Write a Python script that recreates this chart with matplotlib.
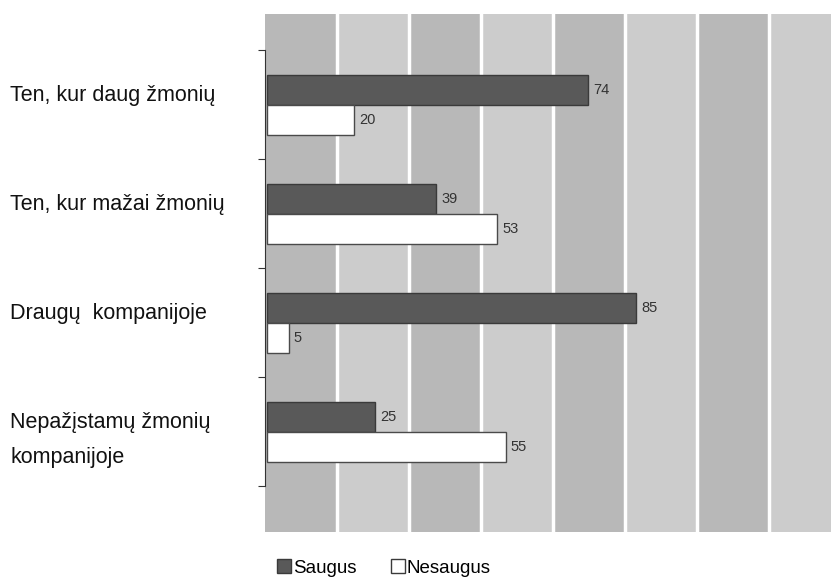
import matplotlib.pyplot as plt
from matplotlib.patches import Patch

categories = ["Ten, kur daug žmonių", "Ten, kur mažai žmonių",
              "Draugų  kompanijoje", "Nepažįstamų žmonių\nkompanijoje"]
saugus = [74, 39, 85, 25]
nesaugus = [20, 53, 5, 55]
series_names = ["Saugus", "Nesaugus"]

plt.rcParams['font.family'] = ['Liberation Sans', 'DejaVu Sans']

fig = plt.figure(figsize=(8.31, 5.8), dpi=100)
ax = fig.add_axes([265 / 831, 1 - 532 / 580, 1 - 265 / 831, 518 / 580])

xmin, xmax = -0.46, 130
band = 16.6
# alternating background bands with white separators
i = 0
x0 = xmin
while x0 < xmax:
    ax.axvspan(x0, x0 + band, color="#b8b8b8" if i % 2 == 0 else "#cccccc", lw=0, zorder=0)
    if i > 0:
        ax.axvline(x0, color="white", lw=2.5, zorder=1)
    x0 += band
    i += 1

h = 0.275
y = list(range(len(categories)))
ax.barh([v - h / 2 for v in y], saugus, height=h, color="#595959",
        edgecolor="#3a3a3a", lw=1, zorder=3, label=series_names[0])
ax.barh([v + h / 2 for v in y], nesaugus, height=h, color="white",
        edgecolor="#4a4a4a", lw=1, zorder=3, label=series_names[1])

for v, s, n in zip(y, saugus, nesaugus):
    ax.text(s + 1.2, v - h / 2, str(s), va="center", ha="left", fontsize=10.5, color="#333333", zorder=4)
    ax.text(n + 1.2, v + h / 2, str(n), va="center", ha="left", fontsize=10.5, color="#333333", zorder=4)

ax.set_xlim(xmin, xmax)
ax.set_ylim(3.92, -0.83)

# category labels at the left, one text per line
for v, lab in zip(y, categories):
    for k, line in enumerate(lab.split("\n")):
        ypix = ax.transData.transform((0, v - 0.5 + 0.468 + k * 0.321))[1]
        fig.text(10 / 831, ypix / 580, line, va="baseline", ha="left",
                 fontsize=15.5, color="#111111")

for sp in ["top", "right", "bottom"]:
    ax.spines[sp].set_visible(False)
ax.spines["left"].set_bounds(-0.5, 3.5)
ax.spines["left"].set_color("#333333")
ax.spines["left"].set_zorder(5)
ax.set_yticks([-0.5, 0.5, 1.5, 2.5, 3.5])
ax.set_yticklabels([])
ax.tick_params(axis="y", length=5, color="#333333")
ax.set_xticks([])

handles = [Patch(facecolor="#595959", edgecolor="#3a3a3a"),
           Patch(facecolor="white", edgecolor="#3a3a3a")]
fig.legend(handles, series_names, loc="center left", bbox_to_anchor=(264 / 831, 1 - 568 / 580),
           ncol=2, frameon=False, fontsize=13.5, handlelength=0.75, handleheight=0.75,
           handletextpad=0.12, columnspacing=1.8, borderpad=0.2)

fig.savefig("out.png", dpi=100)
